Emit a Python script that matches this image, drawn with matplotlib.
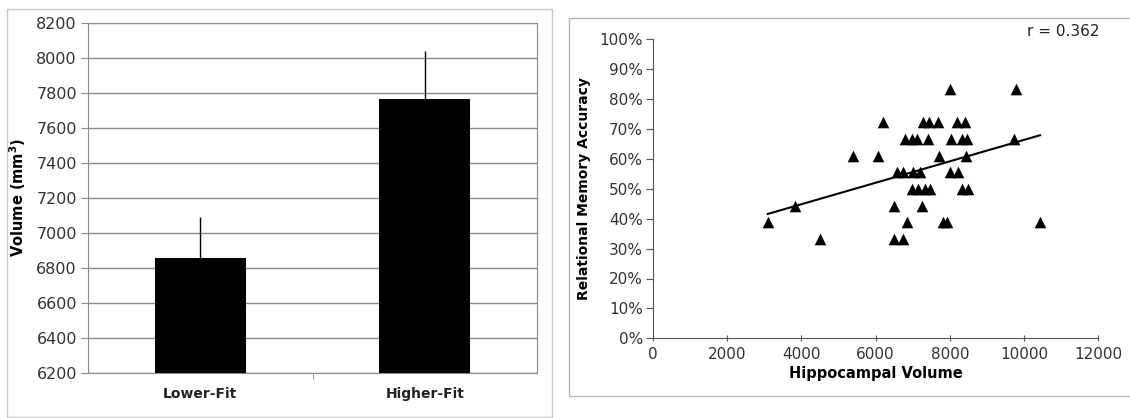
import numpy as np
import matplotlib
matplotlib.use("Agg")
import matplotlib.pyplot as plt
from matplotlib.patches import Rectangle
from matplotlib.ticker import FuncFormatter

# left panel: group means with upper error bars
groups = ["Lower-Fit", "Higher-Fit"]
volume_mean = [6855, 7765]
volume_err = [235, 275]

# right panel: hippocampal volume vs relational memory accuracy
hippo_volume = [8007, 9776,
                6211, 7288, 7450, 7692, 8187, 8411,
                6795, 6975, 7126, 7422, 8034, 8322, 8473, 9739,
                5403, 6076, 7719, 8438,
                6571, 6749, 7019, 7199, 8007, 8231,
                6975, 7154, 7334, 7468, 8322, 8500,
                3832, 6499, 7245,
                3097, 6840, 7827, 7918, 10431,
                4506, 6499, 6733]
memory_acc = [0.833, 0.833,
              0.722, 0.722, 0.722, 0.722, 0.722, 0.722,
              0.667, 0.667, 0.667, 0.667, 0.667, 0.667, 0.667, 0.667,
              0.611, 0.611, 0.611, 0.611,
              0.556, 0.556, 0.556, 0.556, 0.556, 0.556,
              0.500, 0.500, 0.500, 0.500, 0.500, 0.500,
              0.444, 0.444, 0.444,
              0.389, 0.389, 0.389, 0.389, 0.389,
              0.333, 0.333, 0.333]
r_label = "r = 0.362"

W, H = 1130, 418
fig = plt.figure(figsize=(W / 100, H / 100), dpi=100)
fig.patch.set_facecolor("white")

def px(x0, y0, x1, y1):
    return [x0 / W, 1 - y1 / H, (x1 - x0) / W, (y1 - y0) / H]

# panel frames
fig.patches.append(Rectangle((7 / W, 1 - 417 / H), 545 / W, 408 / H, transform=fig.transFigure,
                             fill=False, edgecolor="#c8c8c8", lw=1))
fig.patches.append(Rectangle((569 / W, 1 - 396 / H), 600 / W, 378 / H, transform=fig.transFigure,
                             fill=False, edgecolor="#b8b8b8", lw=1))

# ---- bar chart
ax1 = fig.add_axes(px(88, 22.5, 537, 372.7))
x = np.arange(len(groups))
ax1.bar(x, volume_mean, width=0.405, color="black", zorder=3)
ax1.errorbar(x, volume_mean, yerr=[[0, 0], volume_err], fmt="none", ecolor="black",
             elinewidth=1, capsize=0, zorder=4)
ax1.set_xlim(-0.5, 1.5)
ax1.set_ylim(6200, 8200)
ax1.set_yticks(np.arange(6200, 8201, 200))
ax1.grid(axis="y", color="#8a8a8a", lw=1, zorder=0)
for s in ax1.spines.values():
    s.set_color("#8a8a8a")
ax1.set_xticks(x)
ax1.set_xticklabels(groups, fontweight="bold", fontsize=10, color="#222222")
ax1.set_xticks([0.5], minor=True)
ax1.tick_params(axis="x", which="major", length=0, pad=10)
ax1.tick_params(axis="x", which="minor", length=4, color="#8a8a8a")
ax1.tick_params(axis="y", length=5, color="#8a8a8a", labelsize=11.5, labelcolor="#333333", pad=3)
ax1.set_ylabel("Volume (mm$^\\mathbf{3}$)", fontweight="bold", fontsize=10.5, labelpad=6)

# ---- scatter
ax2 = fig.add_axes(px(652.7, 39.3, 1098.3, 338.3))
ax2.scatter(hippo_volume, memory_acc, marker="^", s=70, color="black", zorder=3, linewidths=0)
hv = np.array(hippo_volume)
coef = np.polyfit(hv, memory_acc, 1)
xs = np.array([hv.min(), hv.max()])
ax2.plot(xs, np.polyval(coef, xs), color="black", lw=1.5, zorder=2)
ax2.set_xlim(0, 12000)
ax2.set_ylim(0, 1)
ax2.set_xticks(np.arange(0, 12001, 2000))
ax2.set_yticks(np.arange(0, 1.01, 0.1))
ax2.yaxis.set_major_formatter(FuncFormatter(lambda v, p: f"{v * 100:.0f}%"))
for side in ["top", "right"]:
    ax2.spines[side].set_visible(False)
for side in ["left", "bottom"]:
    ax2.spines[side].set_color("#555555")
ax2.tick_params(axis="x", direction="inout", length=5, color="#555555", labelsize=11,
                labelcolor="#333333", pad=4)
ax2.tick_params(axis="y", length=5, color="#555555", labelsize=11, labelcolor="#333333", pad=2)
ax2.set_xlabel("Hippocampal Volume", fontweight="bold", fontsize=10.5, labelpad=3)
ax2.set_ylabel("Relational Memory Accuracy", fontweight="bold", fontsize=10, labelpad=6)
fig.text(1063 / W, 1 - 32 / H, r_label, ha="center", va="center", fontsize=11, color="#222222")

fig.savefig("out.png", dpi=100, facecolor="white")
